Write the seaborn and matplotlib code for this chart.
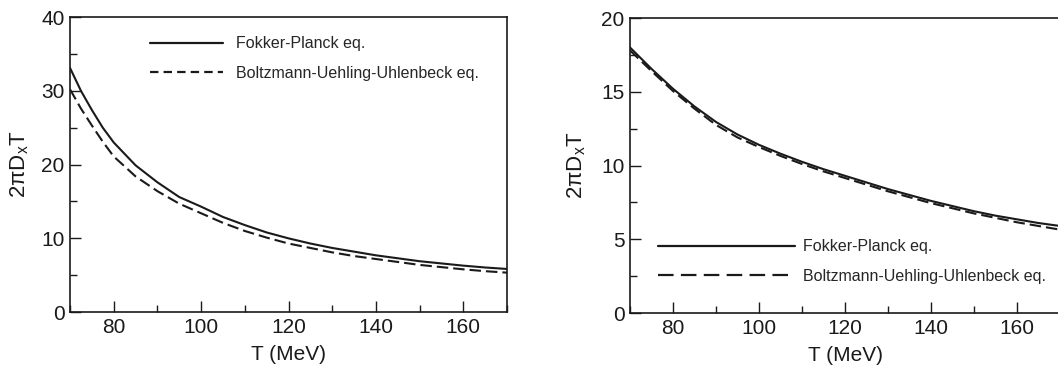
import numpy as np
import pandas as pd
import matplotlib
matplotlib.use("Agg")
import matplotlib.pyplot as plt
import seaborn as sns
from matplotlib.ticker import MultipleLocator
from matplotlib.lines import Line2D

sns.set_theme(style="ticks")
plt.rcParams['font.family'] = ['Liberation Sans', 'DejaVu Sans']
plt.rcParams['mathtext.fontset'] = 'custom'
plt.rcParams['mathtext.rm'] = 'Liberation Sans'
plt.rcParams['mathtext.it'] = 'Liberation Sans'

# Left panel data
T_left = [70, 72.5, 75, 77.5, 80, 85, 90, 95, 100, 105, 110, 115, 120, 125, 130,
          135, 140, 145, 150, 155, 160, 165, 170]
fp_left = [33.1, 30.0, 27.4, 25.0, 23.0, 19.9, 17.6, 15.6, 14.3, 12.9, 11.8, 10.8,
           10.0, 9.3, 8.7, 8.2, 7.7, 7.3, 6.9, 6.6, 6.3, 6.05, 5.85]
buu_left = [30.2, 27.6, 25.3, 23.1, 21.1, 18.4, 16.4, 14.7, 13.4, 12.1, 11.0, 10.1,
            9.3, 8.7, 8.1, 7.6, 7.2, 6.8, 6.4, 6.1, 5.8, 5.55, 5.35]

# Right panel data
T_right = [70, 75, 80, 85, 90, 95, 100, 105, 110, 115, 120, 125, 130, 135, 140,
           145, 150, 155, 160, 165, 170]
fp_right = [18.0, 16.55, 15.2, 14.0, 12.95, 12.1, 11.4, 10.8, 10.25, 9.75, 9.3, 8.85,
            8.4, 8.0, 7.6, 7.25, 6.9, 6.6, 6.35, 6.1, 5.9]
buu_right = [17.8, 16.4, 15.05, 13.85, 12.75, 11.9, 11.25, 10.65, 10.1, 9.6, 9.15, 8.7,
             8.25, 7.85, 7.45, 7.1, 6.75, 6.45, 6.15, 5.9, 5.65]

labels = ["Fokker-Planck eq.", "Boltzmann-Uehling-Uhlenbeck eq."]
INK = "#1a1a1a"


def make_df(T, a, b):
    return pd.DataFrame({
        "T": list(T) + list(T),
        "val": list(a) + list(b),
        "eq": [labels[0]] * len(T) + [labels[1]] * len(T),
    })


fig = plt.figure(figsize=(10.58, 3.72), dpi=100)
ax1 = fig.add_axes([0.0662, 0.161, 0.413, 0.793])
ax2 = fig.add_axes([0.5955, 0.1586, 0.4064, 0.7930])


def draw(ax, df, ymax, ymaj, ymin):
    sns.lineplot(data=df, x="T", y="val", style="eq", ax=ax, color=INK,
                 dashes={labels[0]: "", labels[1]: (5.5, 2.4)}, linewidth=1.5,
                 legend=False)
    ax.set_xlim(70, 170)
    ax.set_ylim(0, ymax)
    ax.xaxis.set_major_locator(MultipleLocator(20))
    ax.xaxis.set_minor_locator(MultipleLocator(10))
    ax.yaxis.set_major_locator(MultipleLocator(ymaj))
    ax.yaxis.set_minor_locator(MultipleLocator(ymin))
    ax.tick_params(which="both", direction="in", top=False, right=False, colors=INK,
                   labelsize=15)
    ax.tick_params(which="major", length=8, width=1, pad=4)
    ax.tick_params(which="minor", length=5, width=1)
    for s in ax.spines.values():
        s.set_color(INK)
        s.set_linewidth(1.2)
    ax.set_xlabel("T (MeV)", fontsize=15, color=INK, labelpad=6)
    ax.set_ylabel("2\u03c0D$_{x}$T", fontsize=16, color=INK)


draw(ax1, make_df(T_left, fp_left, buu_left), 40, 10, 5)
draw(ax2, make_df(T_right, fp_right, buu_right), 20, 5, 2.5)

h1 = [Line2D([], [], color=INK, lw=1.6, ls="-"),
      Line2D([], [], color=INK, lw=1.6, ls=(0, (3.8, 2.3)))]
ax1.legend(h1, labels, loc="upper left", bbox_to_anchor=(0.183, 0.935), frameon=False,
           fontsize=11.5, handlelength=4.6, handletextpad=0.8, labelspacing=0.9,
           borderpad=0, borderaxespad=0)

h2 = [Line2D([], [], color=INK, lw=1.6, ls="-"),
      Line2D([], [], color=INK, lw=1.6, ls=(0, (7, 3.3)))]
ax2.legend(h2, labels, loc="lower left", bbox_to_anchor=(0.065, 0.1), frameon=False,
           fontsize=11.5, handlelength=8.6, handletextpad=0.5, labelspacing=0.9,
           borderpad=0, borderaxespad=0)

ax1.yaxis.set_label_coords(-0.09, 0.5)
ax2.yaxis.set_label_coords(-0.098, 0.5)

fig.savefig("out.png", dpi=100)
